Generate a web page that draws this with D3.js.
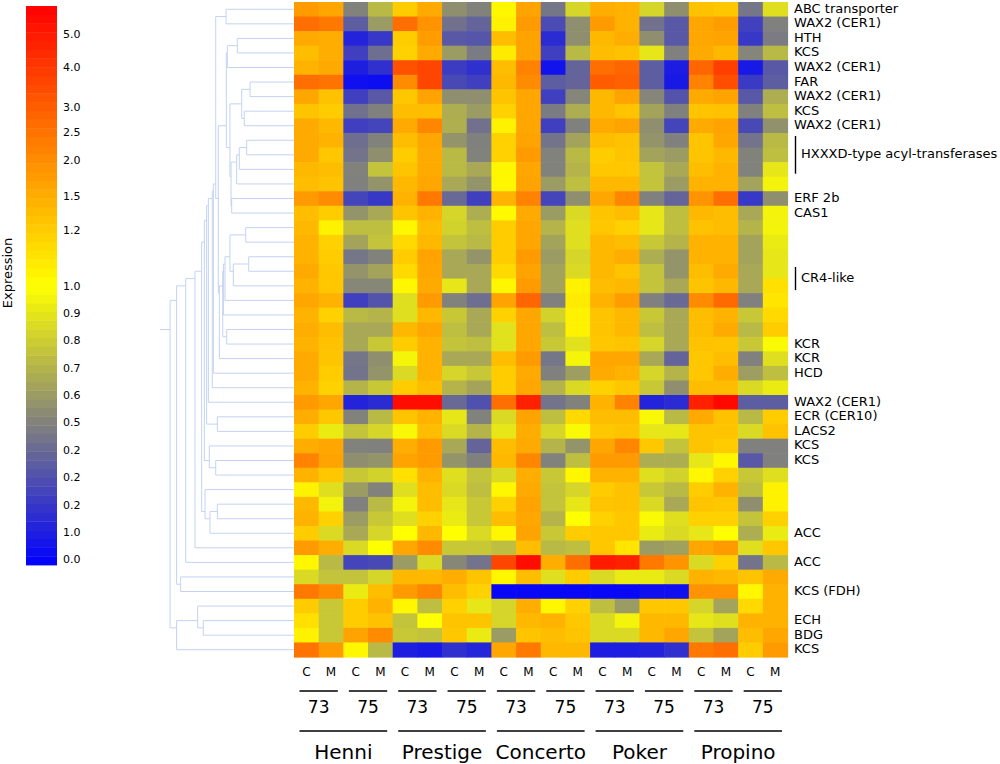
<!DOCTYPE html>
<html>
<head>
<meta charset="utf-8">
<script src="https://cdn.jsdelivr.net/npm/d3@7"></script>
<style>
  body { margin: 0; background: #fff; }
  text { font-family: "DejaVu Sans", sans-serif; fill: #000; }
</style>
</head>
<body>
<div id="graph"></div>
<script>
// --- data ---
const cultivars = ["Henni", "Prestige", "Concerto", "Poker", "Propino"]
const years = ["73", "75"]
const treatments = ["C", "M"]

const geneLabels = [
  "ABC transporter", "WAX2 (CER1)", "HTH", "KCS", "WAX2 (CER1)", "FAR", "WAX2 (CER1)", "KCS", "WAX2 (CER1)",
  "", "", "", "", "ERF 2b", "CAS1", "", "", "", "", "", "", "", "",
  "KCR", "KCR", "HCD", "", "WAX2 (CER1)", "ECR (CER10)", "LACS2", "KCS", "KCS", "", "", "", "",
  "ACC", "", "ACC", "", "KCS (FDH)", "", "ECH", "BDG", "KCS"
]

const groupLabels = [
  { label: "HXXXD-type acyl-transferases", from: 9, to: 11 },
  { label: "CR4-like", from: 18, to: 19 }
]

const legendValues = [0, 0.1, 0.2, 0.3, 0.4, 0.5, 0.6, 0.7, 0.8, 0.9, 1.0, 1.2, 1.5, 2.0, 2.5, 3.0, 4.0, 5.0]
const legendLabels = ["0.0", "1.0", "0.2", "0.2", "0.2", "0.5", "0.6", "0.7", "0.8", "0.9", "1.0", "1.2", "1.5", "2.0", "2.5", "3.0", "4.0", "5.0"]

// expression, one row per gene, columns: cultivar x year x (C, M)
const values = [
  [1.8, 1.6, 0.5, 0.72, 1.2, 1.55, 0.55, 0.5, 1.03, 1.65, 0.45, 0.83, 1.5, 1.45, 0.83, 0.55, 1.3, 1.25, 0.45, 0.87],
  [2.6, 2.4, 0.35, 0.6, 2.6, 1.9, 0.43, 0.38, 1.05, 1.8, 0.28, 0.55, 1.8, 1.45, 0.43, 0.33, 1.6, 1.75, 0.24, 0.49],
  [1.55, 1.5, 0.12, 0.2, 1.2, 1.75, 0.33, 0.32, 1.35, 1.65, 0.15, 0.55, 1.4, 1.5, 0.55, 0.33, 1.6, 1.65, 0.2, 0.47],
  [1.35, 1.5, 0.23, 0.42, 1.18, 1.55, 0.6, 0.47, 1.08, 1.65, 0.23, 0.72, 1.35, 1.3, 0.9, 0.49, 1.55, 1.4, 0.51, 0.72],
  [1.45, 1.55, 0.1, 0.17, 3.3, 3.6, 0.22, 0.17, 1.35, 2.2, 0.05, 0.38, 2.6, 2.8, 0.35, 0.09, 2.8, 3.8, 0.08, 0.33],
  [2.6, 2.5, 0.04, 0.03, 2.0, 3.6, 0.27, 0.23, 1.4, 2.0, 0.35, 0.38, 3.0, 2.9, 0.35, 0.08, 2.2, 3.4, 0.21, 0.35],
  [1.6, 1.3, 0.23, 0.33, 1.25, 1.65, 0.55, 0.55, 1.28, 1.6, 0.23, 0.51, 1.4, 1.65, 0.51, 0.31, 1.55, 1.65, 0.33, 0.67],
  [1.28, 1.2, 0.43, 0.49, 1.35, 1.35, 0.67, 0.6, 1.18, 1.6, 0.47, 0.67, 1.4, 1.28, 0.63, 0.49, 1.28, 1.3, 0.49, 0.74],
  [1.55, 1.4, 0.23, 0.25, 1.55, 2.1, 0.68, 0.43, 1.05, 1.6, 0.23, 0.49, 1.55, 1.65, 0.55, 0.25, 1.55, 1.65, 0.27, 0.56],
  [1.55, 1.45, 0.42, 0.5, 1.35, 1.6, 0.57, 0.49, 1.18, 1.65, 0.44, 0.63, 1.35, 1.3, 0.57, 0.49, 1.28, 1.6, 0.44, 0.72],
  [1.55, 1.25, 0.44, 0.55, 1.2, 1.55, 0.72, 0.5, 1.18, 1.8, 0.5, 0.72, 1.2, 1.28, 0.63, 0.6, 1.28, 1.4, 0.5, 0.74],
  [1.4, 1.35, 0.5, 0.76, 1.28, 1.55, 0.72, 0.65, 1.03, 1.6, 0.5, 0.7, 1.25, 1.25, 0.76, 0.65, 1.35, 1.45, 0.5, 0.9],
  [1.35, 1.28, 0.49, 0.57, 1.4, 1.6, 0.65, 0.57, 1.03, 1.65, 0.6, 0.74, 1.4, 1.4, 0.76, 0.6, 1.45, 1.45, 0.63, 0.95],
  [1.8, 2.0, 0.25, 0.2, 1.45, 2.4, 0.4, 0.23, 1.45, 2.2, 0.25, 0.55, 1.6, 2.1, 0.49, 0.38, 1.9, 2.6, 0.2, 0.55],
  [1.35, 1.2, 0.57, 0.65, 1.28, 1.45, 0.83, 0.67, 1.02, 1.55, 0.6, 0.85, 1.28, 1.35, 0.9, 0.74, 1.4, 1.35, 0.65, 0.95],
  [1.4, 1.05, 0.74, 0.74, 1.03, 1.35, 0.82, 0.74, 1.2, 1.6, 0.7, 0.87, 1.25, 1.18, 0.9, 0.74, 1.3, 1.35, 0.7, 0.95],
  [1.45, 1.18, 0.63, 0.76, 1.15, 1.4, 0.76, 0.72, 1.2, 1.6, 0.63, 0.87, 1.4, 1.35, 0.78, 0.7, 1.45, 1.45, 0.63, 0.92],
  [1.45, 1.2, 0.45, 0.5, 1.2, 1.65, 0.65, 0.57, 1.2, 1.8, 0.6, 0.83, 1.4, 1.5, 0.67, 0.57, 1.45, 1.45, 0.63, 0.9],
  [1.55, 1.25, 0.57, 0.63, 1.15, 1.6, 0.65, 0.65, 1.15, 1.65, 0.63, 0.85, 1.4, 1.28, 0.76, 0.57, 1.35, 1.55, 0.65, 0.9],
  [1.45, 1.25, 0.52, 0.52, 1.03, 1.55, 0.9, 0.65, 1.03, 1.8, 0.63, 1.05, 1.35, 1.4, 0.76, 0.65, 1.28, 1.4, 0.65, 1.12],
  [1.6, 1.45, 0.23, 0.31, 0.87, 1.8, 0.5, 0.42, 1.65, 2.8, 0.49, 1.08, 1.45, 1.75, 0.49, 0.4, 2.0, 2.7, 0.49, 1.1],
  [1.45, 1.18, 0.72, 0.7, 0.87, 1.4, 0.78, 0.65, 1.18, 1.6, 0.82, 1.05, 1.28, 1.4, 0.78, 0.65, 1.35, 1.45, 0.78, 1.15],
  [1.5, 1.35, 0.65, 0.65, 1.4, 1.6, 0.74, 0.65, 0.88, 1.6, 0.74, 1.05, 1.28, 1.4, 0.74, 0.65, 1.35, 1.55, 0.72, 1.2],
  [1.45, 1.3, 0.65, 0.78, 1.2, 1.45, 0.76, 0.74, 0.88, 1.6, 0.78, 0.88, 1.25, 1.28, 0.83, 0.65, 1.3, 1.28, 0.78, 0.98],
  [1.55, 1.28, 0.45, 0.55, 0.96, 1.45, 0.65, 0.65, 1.35, 1.8, 0.45, 0.96, 1.6, 1.6, 0.65, 0.38, 1.25, 1.35, 0.49, 0.87],
  [1.55, 1.2, 0.44, 0.57, 0.85, 1.45, 0.83, 0.78, 1.2, 1.55, 0.49, 0.61, 1.55, 1.45, 0.83, 0.7, 1.25, 1.5, 0.61, 0.74],
  [1.45, 1.18, 0.7, 0.78, 1.2, 1.35, 0.7, 0.63, 1.2, 1.6, 0.7, 0.85, 1.18, 1.25, 0.78, 0.55, 1.35, 1.35, 0.85, 0.92],
  [1.8, 1.6, 0.12, 0.15, 5.5, 5.5, 0.4, 0.3, 2.6, 4.8, 0.44, 0.5, 1.45, 2.2, 0.12, 0.15, 4.8, 5.7, 0.35, 0.35],
  [1.5, 1.25, 0.5, 0.72, 1.28, 1.45, 0.9, 0.5, 0.85, 1.65, 0.74, 1.15, 1.35, 1.35, 0.97, 0.72, 1.55, 1.3, 0.72, 1.2],
  [1.2, 0.92, 0.76, 0.83, 0.97, 1.35, 0.85, 0.7, 0.9, 1.5, 0.83, 0.98, 1.25, 1.28, 0.9, 0.9, 1.28, 1.28, 0.85, 1.3],
  [1.5, 1.6, 0.5, 0.49, 1.5, 1.8, 0.65, 0.38, 1.35, 1.55, 0.7, 0.57, 1.6, 2.1, 1.25, 0.76, 1.28, 1.2, 0.49, 0.49],
  [2.2, 1.65, 0.55, 0.57, 1.65, 1.8, 0.57, 0.49, 1.4, 2.1, 0.5, 0.74, 1.8, 1.8, 0.67, 0.67, 0.9, 1.03, 0.33, 0.49],
  [1.45, 1.25, 0.78, 0.82, 1.12, 1.45, 0.87, 0.76, 0.85, 1.5, 0.78, 1.03, 1.45, 1.45, 0.87, 0.82, 1.03, 1.18, 0.78, 0.87],
  [1.05, 0.87, 0.6, 0.5, 0.87, 1.35, 0.85, 0.74, 1.03, 1.55, 0.76, 0.83, 1.2, 1.3, 0.78, 0.72, 1.2, 1.45, 0.74, 1.05],
  [1.4, 0.95, 0.49, 0.72, 0.95, 1.35, 0.9, 0.78, 1.18, 1.65, 0.76, 0.9, 1.28, 1.3, 0.85, 0.65, 1.28, 1.25, 0.55, 1.05],
  [1.45, 1.18, 0.6, 0.78, 0.87, 1.18, 0.92, 0.78, 1.35, 1.6, 0.7, 1.0, 1.18, 1.25, 0.98, 0.87, 1.18, 1.18, 0.76, 1.18],
  [1.2, 0.85, 0.65, 0.83, 1.0, 1.4, 1.0, 0.85, 1.03, 1.65, 0.78, 1.2, 1.25, 1.25, 0.92, 0.85, 0.9, 1.0, 0.67, 0.92],
  [1.8, 1.5, 0.85, 1.0, 1.6, 2.0, 0.78, 0.78, 0.74, 1.35, 0.72, 0.74, 1.25, 1.1, 0.6, 0.62, 1.6, 1.8, 0.87, 1.25],
  [1.03, 0.72, 0.25, 0.27, 0.6, 0.85, 0.52, 0.44, 3.6, 5.5, 1.5, 2.6, 5.0, 4.8, 2.4, 1.9, 0.85, 1.18, 0.44, 0.72],
  [0.85, 0.76, 0.76, 0.83, 1.4, 1.4, 1.5, 1.28, 1.03, 1.35, 0.87, 1.2, 0.85, 0.92, 0.92, 0.85, 1.45, 1.4, 1.28, 1.55],
  [2.4, 2.0, 0.92, 1.35, 1.8, 2.1, 1.35, 1.18, 0.01, 0.01, 0.01, 0.01, 0.01, 0.01, 0.04, 0.04, 1.9, 1.9, 1.03, 1.45],
  [1.2, 0.78, 1.2, 1.45, 1.03, 0.74, 1.18, 0.9, 0.83, 1.5, 1.03, 1.18, 0.74, 0.6, 1.25, 1.25, 0.83, 0.63, 1.15, 1.45],
  [1.12, 0.78, 1.2, 1.3, 0.76, 1.0, 1.28, 1.28, 0.83, 1.4, 1.45, 1.25, 0.85, 0.95, 1.4, 1.4, 0.9, 0.87, 1.45, 1.45],
  [1.05, 0.78, 1.65, 2.0, 0.78, 0.76, 1.25, 0.92, 0.6, 1.28, 1.35, 1.28, 0.85, 0.85, 1.4, 1.6, 0.76, 0.63, 1.35, 1.6],
  [2.5, 1.8, 1.03, 0.72, 0.1, 0.08, 0.17, 0.13, 1.6, 2.4, 1.4, 1.4, 0.1, 0.1, 0.12, 0.17, 2.4, 2.6, 1.2, 1.8]
]

// row dendrogram: [height, left, right], leaves are row indices
const tree =
  [0.925,
    [0.876,
      [0.808,
        [0.739,
          [0.689,
            [0.669,
              [0.652,
                [0.639,
                  [0.61,
                    [0.602,
                      [0.584,
                        [0.507, 0, 1],
                        [0.565,
                          [0.505,
                            [0.4975, [0.423, 2, 3], 4],
                            [0.478,
                              [0.39, [0.328, 5, 6], [0.371, 7, 8]],
                              [0.47, [0.428, [0.408, [0.353, 9, 10], 11], 12], [0.465, 13, 14]]]],
                          [0.557,
                            [0.532,
                              [0.527, [0.515, [0.478, [0.36, 15, 16], [0.453, [0.338, 17, 18], 19]], 20], 21],
                              [0.502, 22, 23]],
                            24]]],
                      25],
                    26],
                  27],
                [0.572, 28, 29]],
              [0.632, 30, [0.584, 31, 32]]],
            [0.664, 33, [0.627, [0.572, 34, 35], 36]]],
          37],
        38],
      [0.846, 39, 40]],
    [0.876, [0.719, 41, [0.677, 42, 43]], 44]]

// --- layout ---
const width = 1000
const height = 764
const heatLeft = 294
const heatRight = 787.5
const heatTop = 2
const heatBottom = 657

const svg = d3.select("#graph").append("svg")
  .attr("width", width)
  .attr("height", height)

const nCols = cultivars.length * years.length * treatments.length

const x = d3.scaleBand()
  .domain(d3.range(nCols))
  .range([heatLeft, heatRight])

const y = d3.scaleBand()
  .domain(d3.range(values.length))
  .range([heatTop, heatBottom])

// expression -> position on colour bar -> colour
const level = d3.scaleLinear()
  .domain([0, 1, 1.2, 1.5, 2, 2.5, 3, 4, 5, 6])
  .range([0.01, 0.5, 0.6, 0.66, 0.725, 0.775, 0.82, 0.89, 0.95, 1])
  .clamp(true)

const ramp = d3.scaleLinear()
  .domain([0, 0.5, 1])
  .range(["#0000ff", "#ffff00", "#ff0000"])

const color = v => ramp(level(v))

// Heatmap
svg.append("g")
  .selectAll("g")
  .data(values)
  .join("g")
  .each(function (row, i) {
    d3.select(this).selectAll("rect")
      .data(row)
      .join("rect")
      .attr("x", (d, j) => x(j))
      .attr("y", y(i))
      .attr("width", x.bandwidth() + 0.6)
      .attr("height", y.bandwidth() + 0.6)
      .attr("fill", d => color(d))
  })

// Dendrogram (node placed at the mean position of its leaves)
const dx = d3.scaleLinear().domain([0, 1]).range([heatLeft, 160])
const dend = svg.append("g")
  .attr("fill", "none")
  .attr("stroke", "#c3d3f2")
  .attr("stroke-width", 1)

function drawNode(node) {
  if (typeof node === "number") {
    const ly = y(node) + y.bandwidth() / 2
    return { x: dx(0), y: ly, sum: ly, n: 1 }
  }
  const a = drawNode(node[1])
  const b = drawNode(node[2])
  const nx = dx(node[0])
  const sum = a.sum + b.sum
  const n = a.n + b.n
  dend.append("path")
    .attr("d", `M${a.x},${a.y}H${nx}V${b.y}H${b.x}`)
  return { x: nx, y: sum / n, sum, n }
}
const root = drawNode(tree)
dend.append("path").attr("d", `M${root.x},${root.y}H${dx(1)}`)

// Gene labels
svg.append("g")
  .attr("font-size", 13)
  .selectAll("text")
  .data(geneLabels)
  .join("text")
  .attr("x", heatRight + 6.5)
  .attr("y", (d, i) => y(i) + y.bandwidth() / 2 + 3.5)
  .text(d => d)

// Grouped genes
const groups = svg.append("g")
groups.selectAll("line")
  .data(groupLabels)
  .join("line")
  .attr("x1", heatRight + 8).attr("x2", heatRight + 8)
  .attr("y1", d => y(d.from) + 3)
  .attr("y2", d => y(d.to) + y.bandwidth() - 3)
  .attr("stroke", "#000")
  .attr("stroke-width", 1.4)
groups.selectAll("text")
  .data(groupLabels)
  .join("text")
  .attr("font-size", 13)
  .attr("x", heatRight + 13.5)
  .attr("y", d => (y(d.from) + y(d.to) + y.bandwidth()) / 2 + 3.5)
  .text(d => d.label)

// Column labels
const colKeys = d3.range(nCols)
svg.append("g")
  .attr("font-size", 12)
  .attr("text-anchor", "middle")
  .selectAll("text")
  .data(colKeys)
  .join("text")
  .attr("x", j => x(j) + x.bandwidth() / 2)
  .attr("y", 675.5)
  .text(j => treatments[j % treatments.length])

const pairW = x.bandwidth() * treatments.length
const yearKeys = d3.range(cultivars.length * years.length)
const yearG = svg.append("g")
yearG.selectAll("line")
  .data(yearKeys)
  .join("line")
  .attr("x1", k => x(k * treatments.length) + 5.5)
  .attr("x2", k => x(k * treatments.length) + pairW - 5.5)
  .attr("y1", 691).attr("y2", 691)
  .attr("stroke", "#000")
  .attr("stroke-width", 1.3)
yearG.selectAll("text")
  .data(yearKeys)
  .join("text")
  .attr("font-size", 17)
  .attr("text-anchor", "middle")
  .attr("x", k => x(k * treatments.length) + pairW / 2)
  .attr("y", 713)
  .text(k => years[k % years.length])

const groupW = pairW * years.length
const cultG = svg.append("g")
cultG.selectAll("line")
  .data(cultivars)
  .join("line")
  .attr("x1", (d, i) => x(i * years.length * treatments.length) + 5.5)
  .attr("x2", (d, i) => x(i * years.length * treatments.length) + groupW - 5.5)
  .attr("y1", 731).attr("y2", 731)
  .attr("stroke", "#000")
  .attr("stroke-width", 1.3)
cultG.selectAll("text")
  .data(cultivars)
  .join("text")
  .attr("font-size", 20)
  .attr("text-anchor", "middle")
  .attr("x", (d, i) => x(i * years.length * treatments.length) + groupW / 2)
  .attr("y", 759)
  .text(d => d)

// Legend
const legTop = 6
const legBottom = 565
const ly = d3.scaleLinear().domain([0, 1]).range([legBottom, legTop])
const nSteps = 64
const steps = d3.range(nSteps).map(i => (i + 0.5) / nSteps)

svg.append("g")
  .selectAll("rect")
  .data(steps)
  .join("rect")
  .attr("x", 26)
  .attr("width", 31)
  .attr("y", t => ly(t + 0.5 / nSteps))
  .attr("height", (legBottom - legTop) / nSteps + 0.4)
  .attr("fill", t => ramp(t))

svg.append("g")
  .attr("font-size", 11)
  .selectAll("text")
  .data(legendValues)
  .join("text")
  .attr("x", 63)
  .attr("y", (v, i) => Math.min(ly(level(v)), legBottom - 5) + 4)
  .text((v, i) => legendLabels[i])

svg.append("text")
  .attr("font-size", 13)
  .attr("text-anchor", "middle")
  .attr("transform", "translate(11.5,273) rotate(-90)")
  .text("Expression")
</script>
</body>
</html>
